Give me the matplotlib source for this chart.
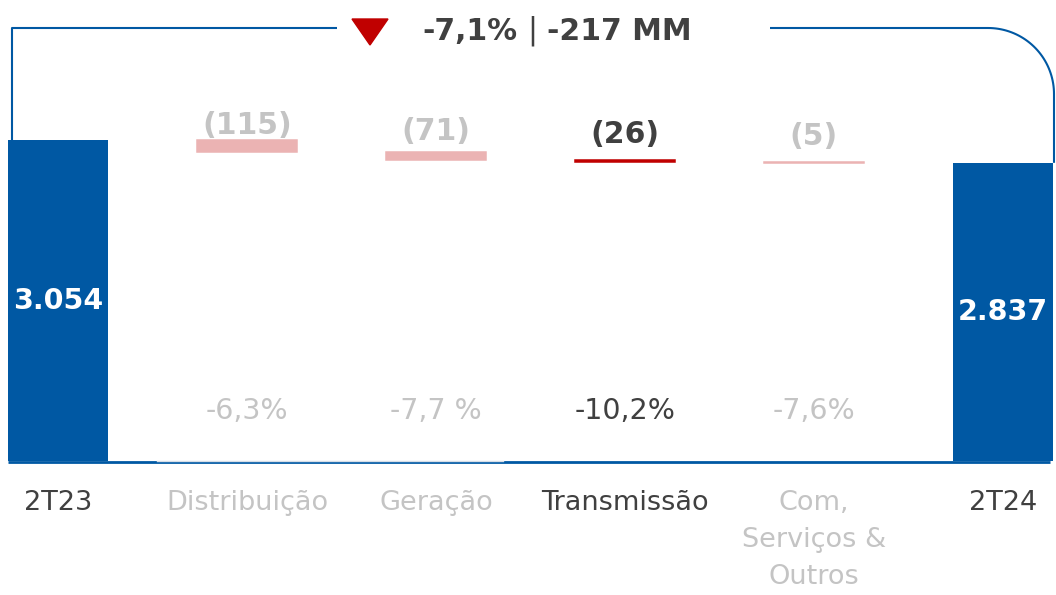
import numpy as np
import matplotlib
matplotlib.use('Agg')
import matplotlib.pyplot as plt
from matplotlib.patches import Polygon

plt.rcParams['font.family'] = ['DejaVu Sans']

# data
categories = ['2T23', 'Distribuição', 'Geração', 'Transmissão', 'Com,\nServiços &\nOutros', '2T24']
start_value = 3054
deltas = [-115, -71, -26, -5]
end_value = 2837
delta_labels = ['(115)', '(71)', '(26)', '(5)']
pct_labels = ['-6,3%', '-7,7 %', '-10,2%', '-7,6%']
total_labels = ['3.054', '2.837']
highlight = 'Transmissão'
title_pct = '-7,1%'
title_mm = '-217 MM'

blue = '#0058a3'
red = '#c00000'
pink = '#ebb3b3'
dark = '#404040'
faded = '#c4c4c4'

# pixel helpers (figure is 1056x595, axes fill it)
X0, DX = 58, 189.0
Y0, SY = 461, 0.1051


def px(x):
    return (x - X0) / DX


def py(y):
    return (Y0 - y) / SY


fig = plt.figure(figsize=(10.56, 5.95), dpi=100)
ax = fig.add_axes([0, 0, 1, 1])
ax.set_xlim(px(0), px(1056))
ax.set_ylim(py(595), py(0))
ax.axis('off')

x = np.arange(len(categories))
w = 100 / DX

# totals
ax.bar([x[0], x[-1]], [start_value, end_value], width=w, color=blue, zorder=3)
for xi, v, lab in zip([x[0], x[-1]], [start_value, end_value], total_labels):
    ax.text(xi, v / 2, lab, color='white', fontsize=20.5, fontweight='bold',
            ha='center', va='center', zorder=4)

# floating deltas
level = start_value
for i, d in enumerate(deltas):
    xi = x[i + 1]
    top = level
    level = level + d
    hi = categories[i + 1] == highlight
    col = red if hi else pink
    ax.bar(xi, -d, bottom=level, width=w, color=col, edgecolor=col,
           linewidth=1.1, zorder=3)
    # label sits above the bar, pulled toward a common line
    top_px = Y0 - top * SY
    lab_px = 125 + (top_px - 140) * 0.5
    ax.text(xi, py(lab_px), delta_labels[i], color=dark if hi else faded,
            fontsize=21.5, fontweight='bold', ha='center', va='center')
    ax.text(xi, py(411), pct_labels[i], color=dark if hi else faded,
            fontsize=20.5, ha='center', va='center')

# category labels
for i, c in enumerate(categories):
    faded_cat = i not in (0, len(categories) - 1) and c != highlight
    ax.text(x[i], py(490), c, color=faded if faded_cat else dark, fontsize=19.5,
            ha='center', va='top', linespacing=1.55)

# baseline
ax.plot([px(8), px(1050)], [py(462), py(462)], color=blue, lw=2, zorder=2,
        solid_capstyle='butt')
ax.plot([px(157), px(503)], [py(461), py(461)], color='#d6dde6', lw=1, zorder=2)

# bracket
ytop = py(28)
ax.plot([px(12), px(12), px(337)], [start_value, ytop, ytop], color=blue,
        lw=1.5, solid_capstyle='butt')
r = 66
t = np.linspace(np.pi / 2, 0, 40)
cx, cy = 1054 - r, 28 + r
arc_x = [px(cx + r * np.cos(a)) for a in t]
arc_y = [py(cy - r * np.sin(a)) for a in t]
ax.plot([px(770)] + arc_x + [px(1054)], [ytop] + arc_y + [end_value],
        color=blue, lw=1.5, solid_capstyle='butt')

# title
tri = Polygon([[px(352), py(19)], [px(388), py(19)], [px(370), py(45)]],
              closed=True, color=red)
ax.add_patch(tri)
ax.text(px(517), py(31), title_pct, color=dark, fontsize=21.5, fontweight='bold',
        ha='right', va='center')
ax.text(px(532), py(31), '|', color=dark, fontsize=21.5, ha='center', va='center')
ax.text(px(547), py(31), title_mm, color=dark, fontsize=21.5, fontweight='bold',
        ha='left', va='center')

fig.savefig('out.png', dpi=100)
